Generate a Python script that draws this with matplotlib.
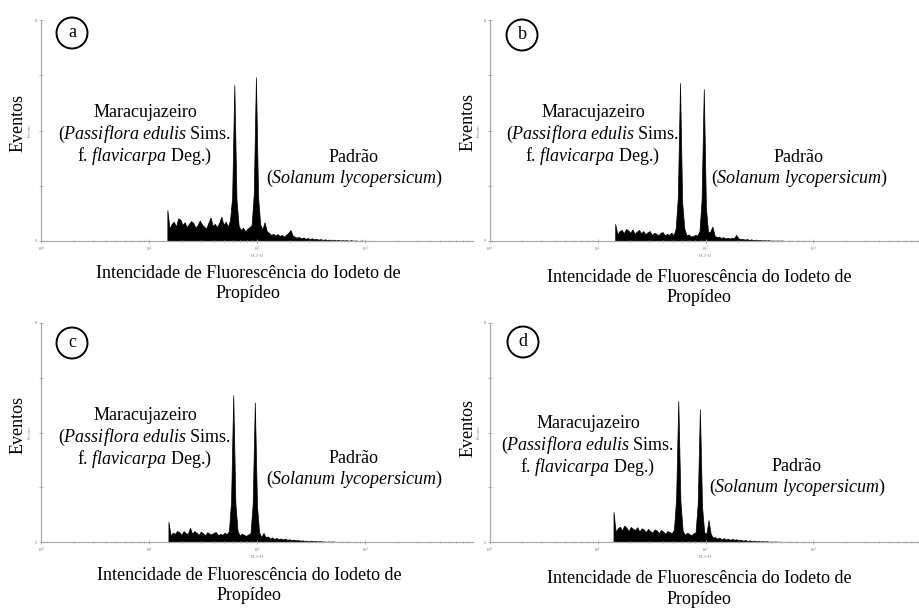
import matplotlib
matplotlib.use('Agg')
import matplotlib.pyplot as plt
from matplotlib.patches import Ellipse
from matplotlib.ticker import LogLocator, NullFormatter
import numpy as np

plt.rcParams['font.family'] = ['Liberation Serif', 'DejaVu Serif']
plt.rcParams['mathtext.fontset'] = 'custom'
plt.rcParams['mathtext.rm'] = 'Liberation Serif'
plt.rcParams['mathtext.it'] = 'Liberation Serif:italic'

LARG, ALT = 919, 611

# histogramas FL2-H (eventos por canal), canais espacados de 0.02 decada
paineis = ['a', 'b', 'c', 'd']
inicio_decada = [1.17, 1.164, 1.18, 1.148]
passo_decada = 0.02

eventos_a = [1.12, 0.45, 0.62, 0.70, 0.52, 0.82, 0.78, 0.58, 0.68, 0.50,
             0.62, 0.72, 0.66, 0.48, 0.58, 0.74, 0.60, 0.52, 0.46, 0.66,
             0.85, 0.55, 0.62, 0.50, 0.66, 0.88, 0.58, 0.70, 0.52, 0.75,
             1.60, 5.65, 1.50, 0.55, 0.40, 0.48, 0.36, 0.44, 0.50, 0.58,
             1.70, 5.93, 1.60, 0.60, 0.42, 0.68, 0.36, 0.30, 0.22, 0.26,
             0.20, 0.25, 0.18, 0.22, 0.16, 0.22, 0.30, 0.40, 0.20, 0.15,
             0.12, 0.15, 0.09, 0.13, 0.08, 0.11, 0.07, 0.10, 0.06, 0.08,
             0.05, 0.07, 0.04, 0.06, 0.04, 0.05, 0.03, 0.05, 0.02, 0.04,
             0.02, 0.03, 0.02, 0.03, 0.01, 0.03, 0.01, 0.02, 0.01, 0.00,
             0.02, 0.00, 0.01, 0.00, 0.00, 0.01, 0.00]
eventos_b = [0.62, 0.24, 0.36, 0.40, 0.28, 0.44, 0.38, 0.30, 0.42, 0.26,
             0.34, 0.40, 0.28, 0.36, 0.24, 0.32, 0.36, 0.22, 0.30, 0.26,
             0.20, 0.30, 0.32, 0.20, 0.26, 0.22, 0.30, 0.20, 0.45, 1.60,
             5.72, 1.40, 0.45, 0.20, 0.24, 0.16, 0.18, 0.22, 0.20, 0.35,
             1.50, 5.50, 1.20, 0.30, 0.35, 0.52, 0.20, 0.14, 0.16, 0.11,
             0.14, 0.09, 0.12, 0.09, 0.12, 0.10, 0.22, 0.10, 0.07, 0.08,
             0.05, 0.07, 0.04, 0.06, 0.03, 0.05, 0.03, 0.04, 0.02, 0.03,
             0.02, 0.03, 0.01, 0.02, 0.01, 0.02, 0.01, 0.02, 0.01, 0.00,
             0.01, 0.00, 0.01, 0.00, 0.00, 0.01, 0.00]
eventos_c = [0.74, 0.24, 0.34, 0.30, 0.40, 0.36, 0.26, 0.40, 0.32, 0.30,
             0.52, 0.30, 0.40, 0.34, 0.26, 0.38, 0.32, 0.24, 0.36, 0.30,
             0.28, 0.34, 0.36, 0.24, 0.30, 0.26, 0.34, 0.28, 0.40, 1.50,
             5.36, 1.40, 0.40, 0.24, 0.30, 0.26, 0.22, 0.28, 0.32, 1.40,
             5.10, 1.30, 0.35, 0.18, 0.33, 0.18, 0.20, 0.13, 0.17, 0.11,
             0.15, 0.10, 0.13, 0.09, 0.12, 0.08, 0.10, 0.07, 0.09, 0.06,
             0.07, 0.05, 0.06, 0.04, 0.05, 0.03, 0.05, 0.03, 0.04, 0.02,
             0.03, 0.02, 0.02, 0.01, 0.02, 0.01, 0.02, 0.01, 0.00, 0.01,
             0.00, 0.01, 0.00, 0.00, 0.01, 0.00]
eventos_d = [1.10, 0.38, 0.50, 0.56, 0.42, 0.60, 0.52, 0.40, 0.55, 0.48,
             0.44, 0.54, 0.38, 0.50, 0.46, 0.36, 0.48, 0.40, 0.34, 0.46,
             0.42, 0.32, 0.44, 0.38, 0.30, 0.40, 0.36, 0.32, 0.45, 1.60,
             5.15, 1.50, 0.42, 0.26, 0.34, 0.30, 0.24, 0.32, 0.35, 1.40,
             4.85, 1.30, 0.35, 0.30, 0.80, 0.30, 0.16, 0.18, 0.12, 0.16,
             0.10, 0.14, 0.09, 0.12, 0.08, 0.11, 0.08, 0.10, 0.06, 0.08,
             0.05, 0.07, 0.04, 0.06, 0.03, 0.05, 0.03, 0.04, 0.02, 0.03,
             0.02, 0.03, 0.01, 0.02, 0.01, 0.02, 0.01, 0.01, 0.00, 0.01,
             0.00, 0.01, 0.00, 0.00, 0.01, 0.00]
eventos = [eventos_a, eventos_b, eventos_c, eventos_d]

texto_planta = ['Maracujazeiro',
                r'($\mathit{Passiflora\ edulis}$ Sims.',
                r'f. $\mathit{flavicarpa}$ Deg.)']
texto_padrao = ['Padrão', r'($\mathit{Solanum\ lycopersicum}$)']
texto_eixo_x = ['Intencidade de Fluorescência do Iodeto de', 'Propídeo']
texto_eixo_y = 'Eventos'
xticks = [1, 10, 100, 1000]
xtick_rotulos = [r'$10^0$', r'$10^1$', r'$10^2$', r'$10^3$']
yticks = [0, 2, 4, 6, 8]
ytick_rotulos = ['0', '', '', '', '8']

# layout em pixels: (esquerda, linha de base, topo)
eixos_px = [(41, 241, 20), (489.5, 241, 20), (41, 542, 323), (489.5, 542, 323)]
planta_px = [(145, 112), (593, 112), (145, 415), (588, 423)]
padrao_px = [(354, 157), (799, 157), (354, 458), (797, 466)]
xlabel_px = [(248, 273), (699, 277), (249, 575), (699, 578)]
ylabel_px = [(18, 123), (468, 122), (18, 425), (468, 428)]
circulo_px = [(72, 33), (522, 35), (72, 343), (523, 342)]
LARGURA_EIXO = 432
CINZA = '#a8a8a8'
FONTE = 13


def fx(x):
    return x / LARG


def fy(y):
    return 1 - y / ALT


fig = plt.figure(figsize=(LARG / 100, ALT / 100), dpi=100)

for k, letra in enumerate(paineis):
    esq, base, topo = eixos_px[k]
    ax = fig.add_axes([fx(esq), fy(base), LARGURA_EIXO / LARG, (base - topo) / ALT])
    v = np.array(eventos[k])
    canais = 10 ** (inicio_decada[k] + passo_decada * np.arange(len(v)))
    ax.fill_between(canais, 0, v, color='black', lw=0.5)
    ax.set_xscale('log')
    ax.set_xlim(1, 1e4)
    ax.set_ylim(0, 8)
    ax.patch.set_alpha(0)
    for s in ['top', 'right']:
        ax.spines[s].set_visible(False)
    for s in ['left', 'bottom']:
        ax.spines[s].set_color(CINZA)
        ax.spines[s].set_linewidth(0.9)
    ax.set_xticks(xticks)
    ax.set_xticklabels(xtick_rotulos)
    ax.xaxis.set_minor_locator(LogLocator(base=10, subs=np.arange(2, 10)))
    ax.xaxis.set_minor_formatter(NullFormatter())
    ax.set_yticks(yticks)
    ax.set_yticklabels(ytick_rotulos)
    ax.tick_params(which='both', direction='inout', color=CINZA, labelcolor='#888888',
                   labelsize=3.5, pad=1)
    ax.tick_params(which='major', length=3, width=0.6)
    ax.tick_params(which='minor', length=2, width=0.5)
    ax.set_xlabel('FL2-H', fontsize=3.5, color='#888888', labelpad=0.5)
    ax.set_ylabel('Events', fontsize=3.5, color='#888888', labelpad=2)

    xp, yp = planta_px[k]
    for j, linha in enumerate(texto_planta):
        fig.text(fx(xp), fy(yp + 5 + 22 * j), linha, ha='center', va='baseline', fontsize=FONTE)
    xp, yp = padrao_px[k]
    for j, linha in enumerate(texto_padrao):
        fig.text(fx(xp), fy(yp + 5 + 21 * j), linha, ha='center', va='baseline', fontsize=FONTE)
    xp, yp = xlabel_px[k]
    for j, linha in enumerate(texto_eixo_x):
        fig.text(fx(xp), fy(yp + 5 + 20.5 * j), linha, ha='center', va='baseline', fontsize=FONTE)
    xp, yp = ylabel_px[k]
    fig.text(fx(xp), fy(yp), texto_eixo_y, rotation=90, ha='center', va='center', fontsize=FONTE)

    xc, yc = circulo_px[k]
    fig.patches.append(Ellipse((fx(xc), fy(yc)), 31 / LARG, 31 / ALT, fill=False,
                               edgecolor='black', lw=1.4, transform=fig.transFigure))
    fig.text(fx(xc), fy(yc + 4), letra, ha='center', va='baseline', fontsize=FONTE)

fig.savefig('out.png', dpi=100, facecolor='white')
